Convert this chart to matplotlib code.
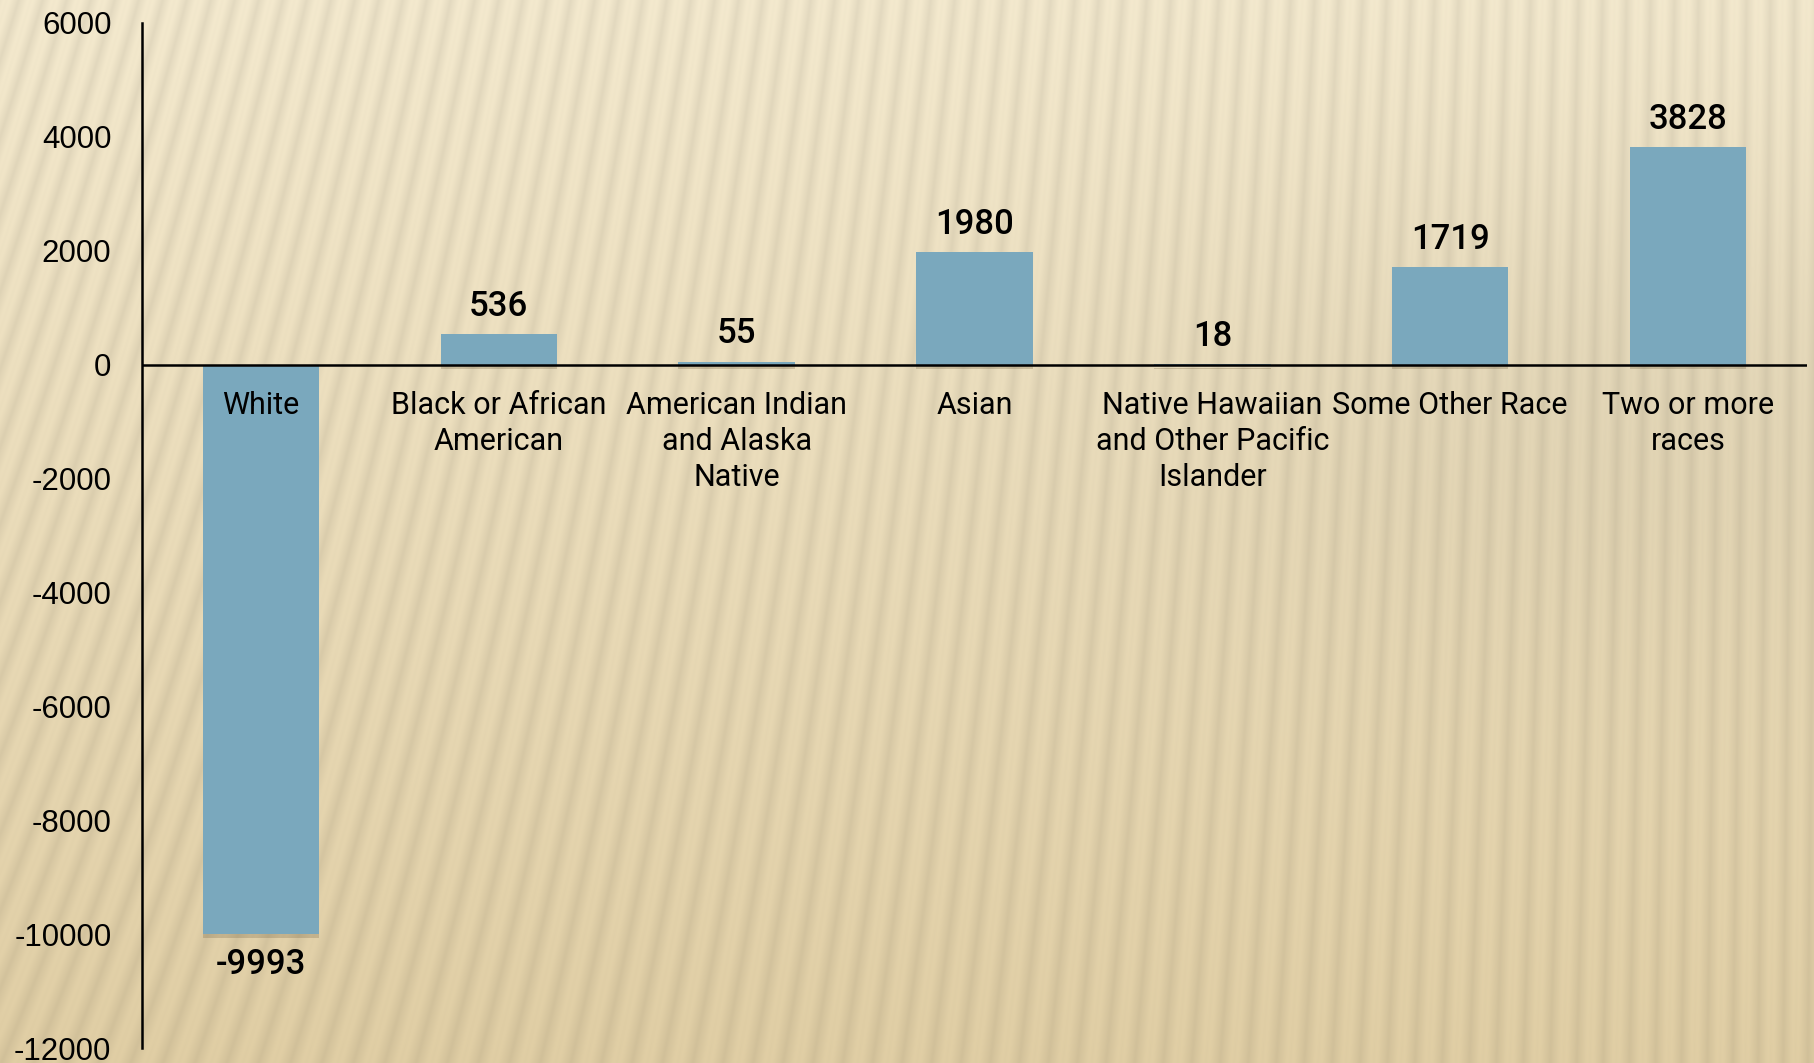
import matplotlib.pyplot as plt
import matplotlib.patheffects as pe
import numpy as np

# Изменение численности по расовым группам
categories = [
    "White",
    "Black or African\nAmerican",
    "American Indian\nand Alaska\nNative",
    "Asian",
    "Native Hawaiian\nand Other Pacific\nIslander",
    "Some Other Race",
    "Two or more\nraces",
]
changes = [-9993, 536, 55, 1980, 18, 1719, 3828]
y_ticks = [6000, 4000, 2000, 0, -2000, -4000, -6000, -8000, -10000, -12000]

W, H = 1814, 1063
LABEL_FONT = ["Roboto", "DejaVu Sans"]
TICK_FONT = ["Liberation Sans", "DejaVu Sans"]
BAR_COLOR = "#7aa8bd"


def make_background(w, h):
    """Бежевый фон с наклонными полосами, как на слайде."""
    xx, rr = np.meshgrid(np.arange(w), np.arange(h))
    t = rr / h
    top = np.array([0.935, 0.895, 0.790])
    bottom = np.array([0.860, 0.790, 0.630])
    base = top[None, None, :] * (1 - t[..., None]) + bottom[None, None, :] * t[..., None]

    # наклон полос меняется слева направо
    slope = 0.30 * (1 - xx / w) ** 1.5 + 0.01
    phase = (xx + slope * rr) * 2 * np.pi / 24.0
    stripes = 1 + 0.03 * np.sin(phase) - 0.015 * np.sin(phase) ** 8

    # лёгкое затемнение справа сверху
    blob = np.exp(-(((xx - 1650) / 500.0) ** 2 + ((rr - 420) / 260.0) ** 2))
    shade = 1 - 0.04 * blob

    img = base * (stripes * shade)[..., None]
    return np.clip(img, 0, 1)


fig = plt.figure(figsize=(W / 100, H / 100), dpi=100)

bg = fig.add_axes([0, 0, 1, 1], zorder=-1)
bg.imshow(make_background(W, H), aspect="auto", interpolation="bilinear")
bg.axis("off")

ax = fig.add_axes([142 / W, 1 - 1048 / H, (1807 - 142) / W, (1048 - 23) / H])
ax.patch.set_alpha(0)

x = np.arange(len(categories))
bars = ax.bar(x, changes, width=0.49, color=BAR_COLOR, zorder=2)
for b in bars:
    b.set_path_effects([
        pe.SimplePatchShadow(offset=(0, -3), shadow_rgbFace="#6b5a3a", alpha=0.25),
        pe.Normal(),
    ])

ax.set_xlim(-0.5, len(categories) - 0.5)
ax.set_ylim(-12000, 6000)
ax.set_yticks(y_ticks)
ax.set_yticklabels([str(v) for v in y_ticks], family=TICK_FONT, fontsize=22.5)
ax.tick_params(axis="y", length=0, pad=22)
ax.set_xticks([])

for side in ["top", "right", "bottom"]:
    ax.spines[side].set_visible(False)
ax.spines["left"].set_linewidth(1.8)
ax.axhline(0, color="black", linewidth=1.8, zorder=3)

# подписи категорий под нулевой линией
for i, name in enumerate(categories):
    ax.annotate(name, xy=(i, 0), xytext=(0, -19), textcoords="offset points",
                ha="center", va="top", fontsize=22, family=LABEL_FONT,
                linespacing=1.3, zorder=4)

# значения над/под столбиками
for i, val in enumerate(changes):
    off = 8 if val >= 0 else -10
    ax.annotate(str(val), xy=(i, val), xytext=(0, off), textcoords="offset points",
                ha="center", va="bottom" if val >= 0 else "top",
                fontsize=25, family=LABEL_FONT, fontweight="medium", zorder=4)

fig.savefig("out.png", dpi=100)
